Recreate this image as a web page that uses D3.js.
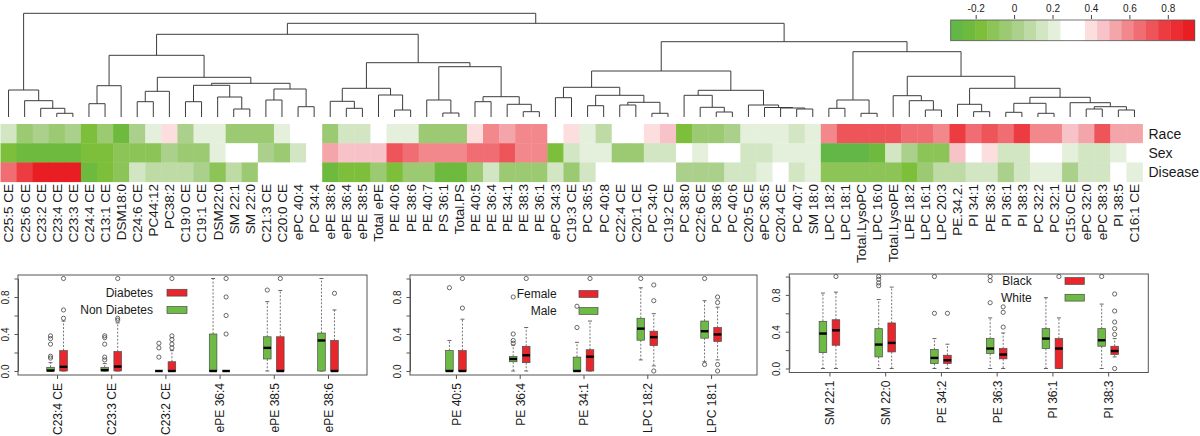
<!DOCTYPE html>
<html><head><meta charset="utf-8">
<script src="https://cdn.jsdelivr.net/npm/d3@7"></script>
<style>
body{margin:0;background:#fff}
svg{display:block}
text{font-family:"Liberation Sans",Arial,Helvetica,sans-serif;fill:#1a1a1a}
</style></head>
<body><svg id="c" width="1200" height="436"></svg>
<script>
// ---------------- DATA ----------------
const lipids = ["C25:5 CE","C25:6 CE","C23:2 CE","C23:4 CE","C23:3 CE","C24:4 CE","C13:1 CE","DSM18:0","C24:6 CE","PC44:12","PC38:2","C19:0 CE","C19:1 CE","DSM22:0","SM 22:1","SM 22:0","C21:3 CE","C20:0 CE","ePC 40:4","PC 34:4","ePE 38:6","ePE 36:4","ePE 38:5","Total ePE","PE 40:6","PE 38:6","PE 40:7","PS 36:1","Total.PS","PE 40:5","PE 36:4","PE 34:1","PE 38:3","PE 36:1","ePC 34:3","C19:3 CE","PC 36:5","PC 40:8","C22:4 CE","C20:1 CE","PC 34:0","C19:2 CE","PC 38:0","C22:6 CE","PC 38:6","PC 40:6","C20:5 CE","ePC 36:5","C20:4 CE","PC 40:7","SM 18:0","LPC 18:2","LPC 18:1","Total.LysoPC","LPC 16:0","Total.LysoPE","LPE 18:2","LPC 16:1","LPC 20:3","PE.34.2.","PI 34:1","PE 36:3","PI 36:1","PI 38:3","PC 32:2","PC 32:1","C15:0 CE","ePC 32:0","ePC 38:3","PI 38:5","C16:1 CE"];
const rowNames = ["Race","Sex","Disease"];
const raceCorr = [0.15,-0.04,0.02,-0.04,0.02,-0.17,-0.04,-0.23,0.02,0.21,0.40,0.02,0.21,0.21,-0.04,-0.04,-0.04,0.21,0.34,0.34,
-0.04,0.15,0.15,0.34,0.21,0.21,-0.04,-0.04,-0.04,0.40,0.59,0.53,0.59,0.59,0.34,0.40,0.21,0.08,0.34,0.34,
0.40,0.46,-0.17,-0.04,-0.04,0.02,0.21,0.21,0.21,0.15,0.21,0.59,0.72,0.72,0.72,0.72,0.66,0.66,0.59,0.78,
0.66,0.72,0.66,0.78,0.59,0.59,0.46,0.53,0.72,0.53,0.53];
const sexCorr = [-0.17,-0.23,-0.23,-0.23,-0.23,-0.17,-0.17,-0.11,-0.11,-0.11,0.02,-0.04,-0.04,0.21,0.34,0.34,0.02,-0.04,0.15,0.34,
0.53,0.46,0.46,0.46,0.72,0.66,0.59,0.59,0.59,0.66,0.66,0.72,0.59,0.59,-0.17,0.15,0.21,0.21,-0.04,-0.04,
0.15,0.15,0.34,0.21,0.34,0.34,0.15,0.15,0.21,0.21,0.21,-0.30,-0.30,-0.30,-0.23,0.15,0.02,-0.11,-0.11,0.46,
0.34,0.40,0.15,0.15,0.34,0.34,0.21,0.15,0.15,0.21,0.34];
const diseaseCorr = [0.66,0.78,0.91,0.91,0.91,-0.23,-0.17,-0.11,0.15,0.08,0.08,0.08,0.02,-0.11,0.08,-0.04,0.34,0.34,0.34,0.34,
-0.23,-0.17,-0.17,-0.04,-0.17,-0.04,-0.04,-0.23,-0.23,-0.04,0.15,-0.04,-0.04,-0.04,0.15,-0.04,0.15,0.34,0.34,0.34,
0.34,0.34,0.02,0.02,0.02,0.15,0.15,0.21,0.34,0.15,0.21,-0.11,-0.11,-0.11,-0.11,-0.11,-0.17,-0.04,0.08,0.08,
0.15,0.15,0.02,0.15,0.21,0.21,0.02,0.15,0.15,0.34,0.21];
const keyDomain = [-0.33, 0.94];
const keyTicks = [-0.2, 0, 0.2, 0.4, 0.6, 0.8];
// dendrogram: [mergeHeight, left, right]; integers are leaf (column) indices
const dendrogram =
[103.7,
  [27, 0, [16.3, 1, [8.7, 2, [3.7, 3, 4]]]],
  [93.7,
    [82.7,
      [61.7,
        [31.3, [13.3, 5, 6], 7],
        [39.7,
          [25.7, [15.3, 8, 9], 10],
          [33.7,
            [31.7, [15.3, 11, 12], [20, 13, [8, 14, 15]]],
            [28, [17, 16, 17], [10.3, 18, 19]]]]],
      [54.3,
        [28.7, [15.7, 20, [8.7, 21, 22]], [22, 23, [7, 24, 25]]],
        [50.3, [17, 26, [4, 27, 28]], [20.3, [15.3, 29, 30], [12.7, 31, [5.3, 32, 33]]]]]],
    [75.3,
      [46,
        [29.7, [19.3, 34, 35], [21.7, [11.3, 36, 37], [14.7, [12, 38, 39], [3.7, 40, 41]]]],
        [26.7, [21.7, 42, [9.7, 43, [5, 44, 45]]], [12, 46, [9.5, 47, [9, 48, [8, 49, 50]]]]]],
      [65.3,
        [17, [8.7, 51, 52], [3.7, 53, 54]],
        [40.7,
          [21.3, 55, [16.3, 56, [7, 57, 58]]],
          [28.7,
            [12.7, 59, [5.3, 60, 61]],
            [19.7,
              [13.7, [4.7, 62, 63], [3.7, 64, 65]],
              [14.3, 66, [10.3, [8, 67, 68], [7, 69, 70]]]]]]]]]];

// box-plot statistics: [whiskerLow, Q1, median, Q3, whiskerHigh, outliers]
const groupsDisease = ["C23:4 CE","C23:3 CE","C23:2 CE","ePE 36:4","ePE 38:5","ePE 38:6"];
const nonDiabetes = [[0,0,0.005,0.04,0.09,[0.14,0.16,0.29,0.35,0.38]],[0,0,0.01,0.04,0.08,[0.12,0.15,0.29,0.36,0.38]],[0,0,0,0,0,[0.15,0.25,0.30]],[0,0,0,0.40,1.0,[]],[0,0.13,0.25,0.37,0.75,[0.875]],[0,0,0.33,0.41,1.0,[]]];
const diabetes = [[0,0,0.045,0.22,0.54,[0.57,0.66,1.0]],[0,0,0.048,0.21,0.52,[0.55,0.57,1.0]],[0,0,0,0.10,0.22,[0.25,0.29,0.34,0.38,1.0]],[0,0,0,0,0,[0.4,0.6,0.8,1.0]],[0,0,0,0.37,0.87,[1.0]],[0,0,0,0.33,0.66,[0.84]]];
const groupsSex = ["PE 40:5","PE 36:4","PE 34:1","LPC 18:2","LPC 18:1"];
const male = [[0,0,0,0.22,0.33,[0.9]],[0,0.10,0.13,0.157,0.28,[0.30,0.33,0.40,0.80]],[0,0,0,0.15,0.31,[0.47,0.70]],[0.12,0.333,0.458,0.57,0.90,[1.0]],[0.10,0.355,0.43,0.54,0.76,[0.07,1.0]]];
const female = [[0,0,0,0.22,0.56,[0.68,1.0]],[0,0.09,0.17,0.267,0.47,[1.0]],[0,0,0.155,0.23,0.54,[1.0]],[0.055,0.275,0.366,0.43,0.62,[0,0.76,0.93]],[0.12,0.32,0.395,0.47,0.69,[0,0.07,0.74,0.80]]];
const groupsRace = ["SM 22:1","SM 22:0","PE 34:2","PE 36:3","PI 36:1","PI 38:3"];
const white = [[0,0.173,0.38,0.513,0.82,[]],[0,0.126,0.26,0.433,0.75,[0.90,0.93,0.97,1.0]],[0,0.054,0.115,0.206,0.325,[0.6,1.0]],[0,0.162,0.217,0.325,0.55,[0.715,0.955,1.0]],[0,0.217,0.325,0.433,0.77,[]],[0,0.242,0.307,0.433,0.70,[1.0]]];
const black = [[0,0.253,0.415,0.53,0.83,[1.0]],[0,0.18,0.278,0.495,0.885,[]],[0,0.054,0.09,0.144,0.264,[0.6]],[0,0.105,0.152,0.217,0.386,[0.45,0.61,0.67]],[0,0,0.217,0.325,0.55,[1.0]],[0.126,0.152,0.19,0.242,0.325,[0,0.37,0.433,0.505,0.625,0.81]]];
const boxTicks = [0,0.2,0.4,0.6,0.8,1.0];

// ---------------- STYLE ----------------
const keyColors = ["#62B746","#6EBA3F","#7DBE3A","#8CC458","#9BCA73","#AAD08C","#BEDAA5","#D2E6C3","#E4F0DC","#FFFFFF","#FFFFFF","#FCDEDE","#F8C3C8","#F4A5AA","#F2878C","#F06E73","#EE555A","#EC3C41","#EB2D32","#E81E23"];
const GREEN = "#6DBA45", RED = "#E8262B";

const svg = d3.select("#c");

// ---------------- HEATMAP ----------------
const x = d3.scaleBand().domain(d3.range(lipids.length)).range([0.5, 1142.5]);
const cx = i => x(i) + x.bandwidth() / 2;
const color = d3.scaleQuantize().domain(keyDomain).range(keyColors);
const rowY = d3.scaleBand().domain(rowNames).range([124, 181.7]);
const rowValues = [raceCorr, sexCorr, diseaseCorr];

const gH = svg.append("g");
rowNames.forEach((r, ri) => {
  gH.append("g").selectAll("rect").data(rowValues[ri]).join("rect")
    .attr("x", (d, i) => x(i)).attr("y", rowY(r))
    .attr("width", x.bandwidth() + 0.4).attr("height", rowY.bandwidth() + 0.4)
    .attr("fill", d => color(d));
});
svg.append("g").selectAll("text").data(rowNames).join("text")
  .attr("x", 1148.5).attr("y", d => rowY(d) + rowY.bandwidth() / 2).attr("dy", "0.35em")
  .style("font-size", "14px").text(d => d);

svg.append("g").selectAll("text").data(lipids).join("text")
  .attr("transform", (d, i) => `translate(${cx(i)},184) rotate(-90)`)
  .attr("text-anchor", "end").attr("dy", "0.36em")
  .style("font-size", "13.5px").text(d => d);

// ---------------- DENDROGRAM ----------------
const root = d3.hierarchy(dendrogram, d => Array.isArray(d) ? [d[1], d[2]] : null);
const hY = d3.scaleLinear().domain([0, 103.7]).range([117, 13.3]);
root.eachAfter(n => {
  if (!n.children) { n.px = cx(n.data); n.ph = 0; }
  else { n.px = (n.children[0].px + n.children[1].px) / 2; n.ph = n.data[0]; }
});
const dp = d3.path();
root.each(n => {
  if (!n.children) return;
  const [a, b] = n.children;
  dp.moveTo(a.px, hY(a.ph)); dp.lineTo(a.px, hY(n.ph)); dp.lineTo(b.px, hY(n.ph)); dp.lineTo(b.px, hY(b.ph));
});
svg.append("path").attr("d", dp.toString()).attr("fill", "none").attr("stroke", "#3c3c3c").attr("stroke-width", 1);

// ---------------- COLOR KEY ----------------
const keyX = d3.scaleLinear().domain(keyDomain).range([950.7, 1194.7]);
const edges = [keyDomain[0], ...color.thresholds(), keyDomain[1]];
const gK = svg.append("g");
gK.selectAll("rect").data(keyColors).join("rect")
  .attr("x", (d, i) => keyX(edges[i])).attr("y", 20)
  .attr("width", (d, i) => keyX(edges[i + 1]) - keyX(edges[i]) + 0.4).attr("height", 20.7)
  .attr("fill", d => d);
gK.append("rect").attr("x", keyX(keyDomain[0])).attr("y", 20)
  .attr("width", keyX(keyDomain[1]) - keyX(keyDomain[0])).attr("height", 20.7)
  .attr("fill", "none").attr("stroke", "#555").attr("stroke-width", 0.8);
const keyAxis = d3.axisTop(keyX).tickValues(keyTicks).tickSize(4).tickSizeOuter(0)
  .tickFormat(d => d === 0 ? "0" : d.toFixed(1));
const gA = svg.append("g").attr("transform", "translate(0,19)").call(keyAxis);
gA.select(".domain").remove();
gA.selectAll("line").attr("stroke", "#444");
gA.selectAll("text").style("font-size", "10px").attr("fill", "#222").style("font-family", '"Liberation Sans",Arial,sans-serif');

// ---------------- BOX PLOTS ----------------
const panels = [
  {groups: groupsDisease, green: nonDiabetes, red: diabetes, names: ["Diabetes", "Non Diabetes"],
   box: [18, 367, 275, 375], yr: [371, 278.5], leg: {tx: 153, ty: [292.7, 310], rx: 167, rw: 20}},
  {groups: groupsSex, green: male, red: female, names: ["Female", "Male"],
   box: [410, 757, 275, 375], yr: [371, 278.5], leg: {tx: 556.7, ty: [294, 311], rx: 579, rw: 19}},
  {groups: groupsRace, green: white, red: black, names: ["Black", "White"],
   box: [789.3, 1148.3, 274, 372.5], yr: [368.5, 276.5], leg: {tx: 1031.7, ty: [281, 297.7], rx: 1065, rw: 19.3}}
];

panels.forEach(p => {
  const g = svg.append("g");
  const [bx0, bx1, by0, by1] = p.box;
  const xp = d3.scalePoint().domain(p.groups).range([bx0, bx1]).padding(0.72);
  const y = d3.scaleLinear().domain([0, 1]).range(p.yr);
  // y axis
  const ya = g.append("g").attr("transform", `translate(${bx0},0)`)
    .call(d3.axisLeft(y).tickValues(boxTicks).tickSize(3.5).tickSizeOuter(0)
      .tickFormat(d => [0, 0.4, 0.8].includes(d) ? d.toFixed(1) : ""));
  ya.select(".domain").attr("stroke", "#555");
  ya.selectAll("line").attr("stroke", "#555");
  ya.selectAll("text").attr("transform", "rotate(-90)").attr("text-anchor", "middle")
    .attr("x", 0).attr("y", -9).attr("dy", "0").style("font-size", "10px").attr("fill", "#333")
    .style("font-family", '"Liberation Sans",Arial,sans-serif');
  // x axis
  const xa = g.append("g").attr("transform", `translate(0,${by1})`)
    .call(d3.axisBottom(xp).tickSize(4).tickSizeOuter(0));
  xa.select(".domain").remove();
  xa.selectAll("line").attr("stroke", "#555");
  xa.selectAll("text").attr("transform", "rotate(-90)").attr("text-anchor", "end")
    .attr("x", -8).attr("y", 0).attr("dy", "0.36em").style("font-size", "12px").attr("fill", "#1a1a1a")
    .style("font-family", '"Liberation Sans",Arial,sans-serif');
  // frame
  g.append("rect").attr("x", bx0).attr("y", by0).attr("width", bx1 - bx0).attr("height", by1 - by0)
    .attr("fill", "none").attr("stroke", "#555").attr("stroke-width", 1);
  // boxes
  const hw = 3.8;
  const series = [{stats: p.green, off: -6.5, fill: GREEN}, {stats: p.red, off: 6.5, fill: RED}];
  series.forEach(s => {
    s.stats.forEach((st, gi) => {
      const [lo, q1, med, q3, hi, outs] = st;
      const c = xp(p.groups[gi]) + s.off;
      const bg = g.append("g");
      bg.append("line").attr("x1", c).attr("x2", c).attr("y1", y(q3)).attr("y2", y(hi))
        .attr("stroke", "#666").attr("stroke-dasharray", "2,1.6").attr("stroke-width", 0.9);
      bg.append("line").attr("x1", c).attr("x2", c).attr("y1", y(q1)).attr("y2", y(lo))
        .attr("stroke", "#666").attr("stroke-dasharray", "2,1.6").attr("stroke-width", 0.9);
      [lo, hi].forEach(v => bg.append("line").attr("x1", c - 2).attr("x2", c + 2)
        .attr("y1", y(v)).attr("y2", y(v)).attr("stroke", "#555").attr("stroke-width", 0.9));
      bg.append("rect").attr("x", c - hw).attr("y", y(q3)).attr("width", 2 * hw)
        .attr("height", Math.max(0, y(q1) - y(q3))).attr("fill", s.fill).attr("stroke", "#4a4a4a").attr("stroke-width", 0.7);
      bg.append("line").attr("x1", c - hw).attr("x2", c + hw).attr("y1", y(med)).attr("y2", y(med))
        .attr("stroke", "#000").attr("stroke-width", 2.4);
      bg.selectAll("circle").data(outs).join("circle")
        .attr("cx", c).attr("cy", d => y(d)).attr("r", 2.1)
        .attr("fill", "none").attr("stroke", "#444").attr("stroke-width", 0.8);
    });
  });
  // legend
  const L = p.leg;
  const lg = g.append("g");
  p.names.forEach((nm, i) => {
    lg.append("text").attr("x", L.tx).attr("y", L.ty[i]).attr("dy", "0.35em")
      .attr("text-anchor", "end").style("font-size", "12px").text(nm);
  });
  const legFill = p.names[0] === "Non Diabetes" ? [GREEN, RED] : [RED, GREEN];
  p.names.forEach((nm, i) => {
    lg.append("rect").attr("x", L.rx).attr("y", L.ty[i] - 3.4).attr("width", L.rw).attr("height", 6.8)
      .attr("fill", legFill[i]).attr("stroke", "#4a4a4a").attr("stroke-width", 0.7);
  });
});
</script>
</body></html>
